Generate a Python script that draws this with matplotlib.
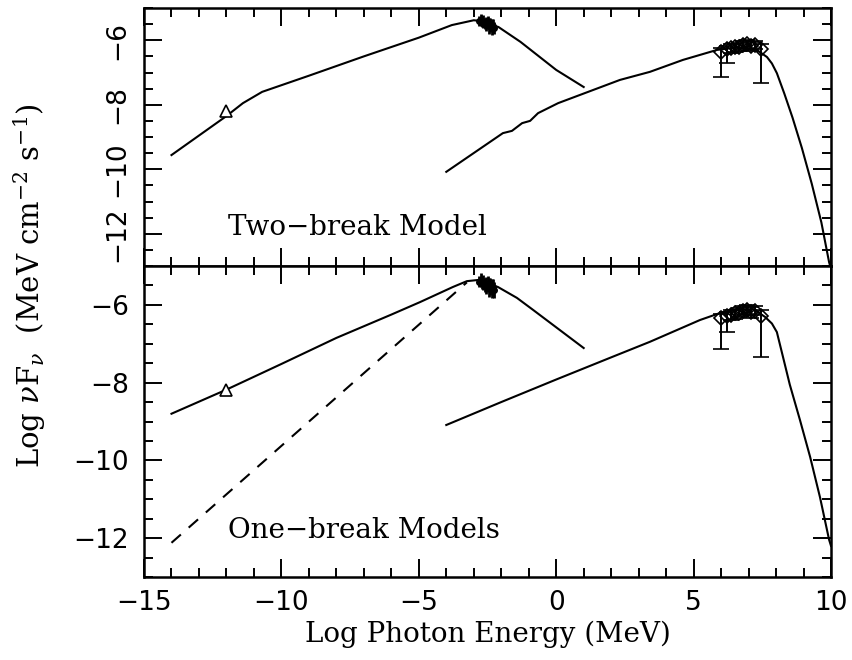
#!/usr/bin/env python3
"""Two-panel SED plot: two-break vs one-break synchrotron/IC models."""

import matplotlib
matplotlib.use('Agg')
import matplotlib.pyplot as plt
from matplotlib.ticker import MultipleLocator

# --- data ---
# top panel (two-break model)
top_sync_x = [-14.0, -12.0, -11.4, -10.7, -9.0, -7.0, -5.0, -3.8, -3.0, -2.8, -2.5, -2.1, -1.3, 0.0, 1.0]
top_sync_y = [-9.56, -8.35, -7.95, -7.60, -7.10, -6.50, -5.92, -5.53, -5.38, -5.40, -5.48, -5.59, -6.05, -6.92, -7.45]
top_ic_x = [-4.0, -1.94, -1.61, -1.24, -0.95, -0.66, 0.07, 2.32, 3.41, 4.61, 5.85, 6.6, 7.3,
            7.67, 7.85, 8.03, 8.3, 8.6, 8.94, 9.3, 9.65, 9.93, 10.0]
top_ic_y = [-10.08, -8.88, -8.81, -8.57, -8.50, -8.26, -7.95, -7.23, -6.98, -6.61, -6.30, -6.22, -6.30,
            -6.52, -6.72, -7.02, -7.65, -8.40, -9.34, -10.45, -11.65, -12.88, -13.1]

# bottom panel (one-break models)
bot_sync_x = [-14.0, -12.0, -10.0, -8.0, -6.0, -4.96, -3.76, -3.25, -2.85, -2.5, -2.12, -1.43, -0.84, 1.0]
bot_sync_y = [-8.80, -8.18, -7.52, -6.85, -6.25, -5.93, -5.54, -5.39, -5.36, -5.45, -5.54, -5.82, -6.13, -7.11]
bot_dash_x = [-14.0, -3.25]
bot_dash_y = [-12.12, -5.42]
bot_ic_x = [-4.0, -2.0, 0.0, 2.0, 3.41, 5.23, 5.96, 6.6, 7.2, 7.6, 7.85, 8.03, 8.25, 8.5,
            8.87, 9.24, 9.6, 9.93, 10.0]
bot_ic_y = [-9.09, -8.50, -7.92, -7.35, -6.95, -6.39, -6.21, -6.12, -6.12, -6.31, -6.48, -6.70, -7.33, -8.05,
            -8.96, -9.91, -10.95, -12.04, -12.2]

# optical point (triangle)
opt_x = [-12.0]
opt_y = [-8.18]

# X-ray points
xray_x = [-2.80, -2.75, -2.70, -2.65, -2.60, -2.55, -2.50, -2.45, -2.40, -2.35, -2.30, -2.25]
xray_y = [-5.40, -5.36, -5.45, -5.42, -5.48, -5.50, -5.46, -5.55, -5.52, -5.58, -5.55, -5.62]
xray_err = [0.15, 0.18, 0.15, 0.20, 0.18, 0.22, 0.20, 0.25, 0.22, 0.25, 0.22, 0.20]

# gamma-ray points (diamonds)
gam_x = [6.0, 6.2, 6.35, 6.5, 6.65, 6.8, 6.95, 7.1, 7.25, 7.45]
gam_y = [-6.35, -6.28, -6.25, -6.22, -6.20, -6.15, -6.12, -6.18, -6.15, -6.28]
gam_lo = [0.78, 0.42, 0.15, 0.15, 0.12, 0.12, 0.12, 0.15, 0.12, 1.05]
gam_hi = [0.12, 0.10, 0.12, 0.10, 0.12, 0.12, 0.12, 0.12, 0.12, 0.15]

plt.rcParams['font.family'] = ['DejaVu Serif']
plt.rcParams['mathtext.fontset'] = 'dejavuserif'

LW = 1.5


def style_axes(ax):
    ax.set_xlim(-15, 10)
    ax.set_ylim(-13, -5)
    ax.xaxis.set_major_locator(MultipleLocator(5))
    ax.xaxis.set_minor_locator(MultipleLocator(1))
    ax.set_yticks([-12, -10, -8, -6])
    ax.yaxis.set_minor_locator(MultipleLocator(0.5))
    ax.tick_params(which='both', direction='in', top=True, right=True, width=1.4)
    ax.tick_params(which='major', length=13)
    ax.tick_params(which='minor', length=6.5)
    for s in ax.spines.values():
        s.set_linewidth(1.8)
    for lab in ax.get_xticklabels() + ax.get_yticklabels():
        lab.set_family('DejaVu Sans')
        lab.set_fontsize(19)


def draw_data(ax):
    ax.plot(opt_x, opt_y, '^', ms=8, mfc='white', mec='black', mew=1.2, zorder=4)
    ax.errorbar(xray_x, xray_y, yerr=xray_err, fmt='o', ms=4, color='black',
                elinewidth=2, capsize=0, zorder=4)
    ax.errorbar(gam_x, gam_y, yerr=[gam_lo, gam_hi], fmt='D', ms=7.5, mfc='none',
                mec='black', mew=1.2, ecolor='black', elinewidth=1.4,
                capsize=5.5, capthick=1.4, zorder=4)


fig = plt.figure(figsize=(8.52, 6.6), dpi=100)
ax1 = fig.add_axes([144 / 852, 1 - 266 / 660, 687 / 852, 258 / 660])
ax2 = fig.add_axes([144 / 852, 1 - 577 / 660, 687 / 852, 311 / 660])

# top panel
ax1.plot(top_sync_x, top_sync_y, color='black', lw=LW)
ax1.plot(top_ic_x, top_ic_y, color='black', lw=LW)
draw_data(ax1)
ax1.text(-11.95, -12.05, 'Two\u2212break Model', fontsize=20, ha='left', va='baseline')
style_axes(ax1)
ax1.tick_params(axis='x', labelbottom=False)
ax1.tick_params(axis='y', pad=10)
for lab in ax1.get_yticklabels():
    lab.set_rotation(90)
    lab.set_va('center')

# bottom panel
ax2.plot(bot_sync_x, bot_sync_y, color='black', lw=LW)
ax2.plot(bot_dash_x, bot_dash_y, color='black', lw=LW, ls=(0, (6, 5)))
ax2.plot(bot_ic_x, bot_ic_y, color='black', lw=LW)
draw_data(ax2)
ax2.text(-11.95, -12.0, 'One\u2212break Models', fontsize=20, ha='left', va='baseline')
style_axes(ax2)
ax2.tick_params(axis='x', pad=9)
ax2.tick_params(axis='y', pad=11)
ax2.set_xlabel('Log Photon Energy (MeV)', fontsize=20, labelpad=4)

fig.text(0.035, 0.568, r'Log $\nu$F$_\nu$  (MeV cm$^{-2}$ s$^{-1}$)', rotation=90,
         ha='center', va='center', fontsize=21)

plt.savefig('out.png', dpi=100)
plt.close()
